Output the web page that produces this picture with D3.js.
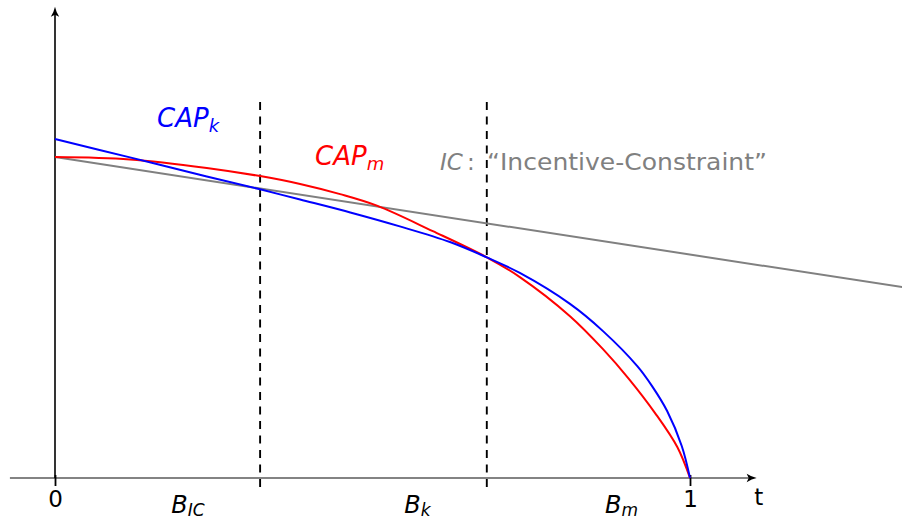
<!DOCTYPE html>
<html>
<head>
<meta charset="utf-8">
<script src="https://cdn.jsdelivr.net/npm/d3@7"></script>
<style>
  html, body { margin: 0; padding: 0; background: #fff; }
  svg { display: block; }
  text { font-family: "DejaVu Sans", sans-serif; }
</style>
</head>
<body>
<div id="chart"></div>
<script>
// ---- data (t in [0,1], value in arbitrary units) ----
const capK_t = [0, 0.118, 0.239, 0.323, 0.386, 0.465, 0.543, 0.622, 0.680, 0.732, 0.811, 0.863, 0.917, 0.940, 0.964, 0.987, 1];
const capK_v = [0.997, 0.943, 0.887, 0.849, 0.819, 0.781, 0.740, 0.694, 0.649, 0.603, 0.512, 0.432, 0.329, 0.271, 0.197, 0.094, 0];
const capM_t = [0, 0.118, 0.239, 0.323, 0.386, 0.449, 0.507, 0.595, 0.680, 0.732, 0.811, 0.863, 0.904, 0.945, 0.980, 1];
const capM_v = [0.944, 0.937, 0.912, 0.888, 0.865, 0.835, 0.801, 0.726, 0.649, 0.591, 0.476, 0.379, 0.291, 0.191, 0.091, 0];
const ic_t = [0, 1.36];
const ic_v = [0.944, 0.554];
const thresholds = [0.323, 0.680];          // B_IC, B_k dashed lines
const thresholdSpan = [1.106, -0.036];       // vertical extent of dashed lines
const xTickValues = [0, 1];
const xTickLabels = ["0", "1"];
const xAxisExtent = [-0.071, 1.105];
const yAxisExtent = [0, 1.386];
const bLabels = [
  { main: "B", sub: "IC", t: 0.183 },
  { main: "B", sub: "k",  t: 0.550 },
  { main: "B", sub: "m",  t: 0.866 }
];

const W = 902, H = 521;
const svg = d3.select("#chart").append("svg").attr("width", W).attr("height", H);
svg.append("rect").attr("width", W).attr("height", H).attr("fill", "#fff");

const x = d3.scaleLinear().domain([0, 1]).range([55, 690]);
const y = d3.scaleLinear().domain([0, 1]).range([478, 138]);

// ---- axes ----
svg.append("line")
  .attr("x1", x(xAxisExtent[0])).attr("x2", x(xAxisExtent[1]) - 6)
  .attr("y1", y(0)).attr("y2", y(0))
  .attr("stroke", "#5a5a5a").attr("stroke-width", 1.6);
{
  const tx = x(xAxisExtent[1]), ty = y(0);
  svg.append("path")
    .attr("d", `M${tx},${ty} Q${tx-5},${ty-1} ${tx-10},${ty-4.2} L${tx-8},${ty} L${tx-10},${ty+4.2} Q${tx-5},${ty+1} ${tx},${ty} Z`)
    .attr("fill", "#000");
}
svg.append("line")
  .attr("x1", x(0)).attr("x2", x(0))
  .attr("y1", y(yAxisExtent[0])).attr("y2", y(yAxisExtent[1]) + 6)
  .attr("stroke", "#000").attr("stroke-width", 1.6);
{
  const tx = x(0), ty = y(yAxisExtent[1]);
  svg.append("path")
    .attr("d", `M${tx},${ty} Q${tx-1},${ty+5} ${tx-4.2},${ty+10} L${tx},${ty+8} L${tx+4.2},${ty+10} Q${tx+1},${ty+5} ${tx},${ty} Z`)
    .attr("fill", "#000");
}

const xAxis = d3.axisBottom(x)
  .tickValues(xTickValues)
  .tickFormat((d, i) => xTickLabels[i])
  .tickSizeInner(8).tickSizeOuter(0).tickPadding(12.5);
const gx = svg.append("g").attr("transform", `translate(0,${y(0) - 3})`).call(xAxis);
gx.select(".domain").remove();
gx.selectAll(".tick line").attr("stroke", "#000").attr("stroke-width", 1.8).attr("y2", 11);
gx.selectAll(".tick text")
  .attr("font-family", "DejaVu Sans, sans-serif")
  .attr("font-size", 23).attr("fill", "#000").attr("y", 15.5);

svg.append("text")
  .attr("x", x(xAxisExtent[1]) + 2).attr("y", y(0) + 27)
  .attr("text-anchor", "middle")
  .attr("font-size", 23).attr("fill", "#000").text("t");

// ---- dashed threshold lines ----
svg.selectAll("line.thr").data(thresholds).enter().append("line")
  .attr("class", "thr")
  .attr("x1", d => x(d)).attr("x2", d => x(d))
  .attr("y1", y(thresholdSpan[0])).attr("y2", y(thresholdSpan[1]))
  .attr("stroke", "#000").attr("stroke-width", 1.9)
  .attr("stroke-dasharray", "8,6.5");

// ---- curves ----
const line = d3.line().x(d => x(d[0])).y(d => y(d[1]));
const lineSmooth = d3.line().x(d => x(d[0])).y(d => y(d[1])).curve(d3.curveCatmullRom.alpha(0.5));

svg.append("path")
  .datum(ic_t.map((t, i) => [t, ic_v[i]]))
  .attr("d", line).attr("fill", "none")
  .attr("stroke", "#808080").attr("stroke-width", 2);

svg.append("path")
  .datum(capM_t.map((t, i) => [t, capM_v[i]]))
  .attr("d", lineSmooth).attr("fill", "none")
  .attr("stroke", "#ff0000").attr("stroke-width", 2);

svg.append("path")
  .datum(capK_t.map((t, i) => [t, capK_v[i]]))
  .attr("d", lineSmooth).attr("fill", "none")
  .attr("stroke", "#0000ff").attr("stroke-width", 2);

// ---- curve labels ----
function subLabel(xp, yp, main, sub, color, size, subSize, shift) {
  const t = svg.append("text").attr("x", xp).attr("y", yp)
    .attr("fill", color).attr("font-size", size).attr("font-style", "italic");
  t.append("tspan").text(main);
  t.append("tspan").attr("font-size", subSize).attr("dy", shift).text(sub);
  return t;
}
subLabel(157, 127, "CAP", "k", "#0000ff", 26, 18, 5);
subLabel(315, 165, "CAP", "m", "#ff0000", 26, 18, 5);

// IC label
svg.append("text").attr("x", 440).attr("y", 170)
  .attr("fill", "#808080").attr("font-size", 23).attr("font-style", "italic").text("IC");
svg.append("text").attr("x", 467).attr("y", 170)
  .attr("fill", "#808080").attr("font-size", 23).text(":");
svg.append("text").attr("x", 487).attr("y", 170)
  .attr("fill", "#808080").attr("font-size", 23)
  .attr("textLength", 280).attr("lengthAdjust", "spacingAndGlyphs")
  .text("\u201CIncentive-Constraint\u201D");

// B labels under the axis
bLabels.forEach(b => {
  subLabel(x(b.t), 513, b.main, b.sub, "#000", 24, 17, 3);
});
</script>
</body>
</html>
